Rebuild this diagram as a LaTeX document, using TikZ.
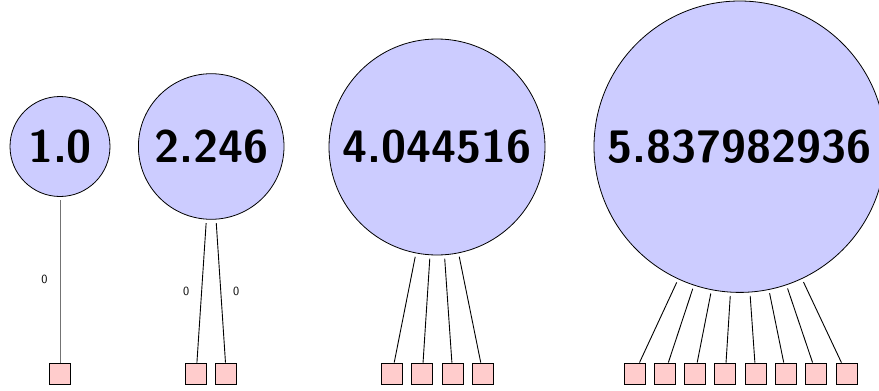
\documentclass[tikz,border=0pt]{standalone}
\begin{document}
\begin{tikzpicture}[x=1pt,y=-1pt,
  valnode/.style={circle, draw=black, line width=0.8pt, fill=blue!20, inner sep=0pt,
    font=\fontsize{45.5}{50}\selectfont\sffamily\bfseries},
  leaf/.style={rectangle, draw=black, line width=0.8pt, fill=red!20, minimum size=21pt, inner sep=0pt},
  edgeline/.style={draw=black, line width=0.9pt, shorten <=3.5pt},
  lbl/.style={font=\fontsize{12.5}{14}\selectfont\sffamily, inner sep=0pt}]
\clip (0,0) rectangle (879,391);
% circles
\node[valnode, minimum size=100pt] (c1) at (60,146.5) {1.0};
\node[valnode, minimum size=145.6pt] (c2) at (211.2,146.5) {2.246};
\node[valnode, minimum size=216pt] (c3) at (437,147) {4.044516};
\node[valnode, minimum size=291.4pt] (c4) at (739.7,146.7) {5.837982936};
% leaves
\node[leaf] (p1) at (60,373.5) {};
\node[leaf] (p2-1) at (196.2,373.5) {};
\node[leaf] (p2-2) at (226.2,373.5) {};
\foreach \i in {1,...,4}
  \node[leaf] (p3-\i) at ({437.5+(\i-2.5)*30.3},373.5) {};
\foreach \i in {1,...,8}
  \node[leaf] (p4-\i) at ({740.5+(\i-4.5)*30.3},373.5) {};
% edges
\draw[edgeline, draw=black!55] (c1) -- node[lbl, left=12pt] {0} (p1);
\draw[edgeline] (c2) -- node[lbl, left=12pt] {0} (p2-1);
\draw[edgeline] (c2) -- node[lbl, right=12pt] {0} (p2-2);
\foreach \i in {1,...,4}
  \draw[edgeline] (c3) -- (p3-\i);
\foreach \i in {1,...,8}
  \draw[edgeline] (c4) -- (p4-\i);
\end{tikzpicture}
\end{document}
